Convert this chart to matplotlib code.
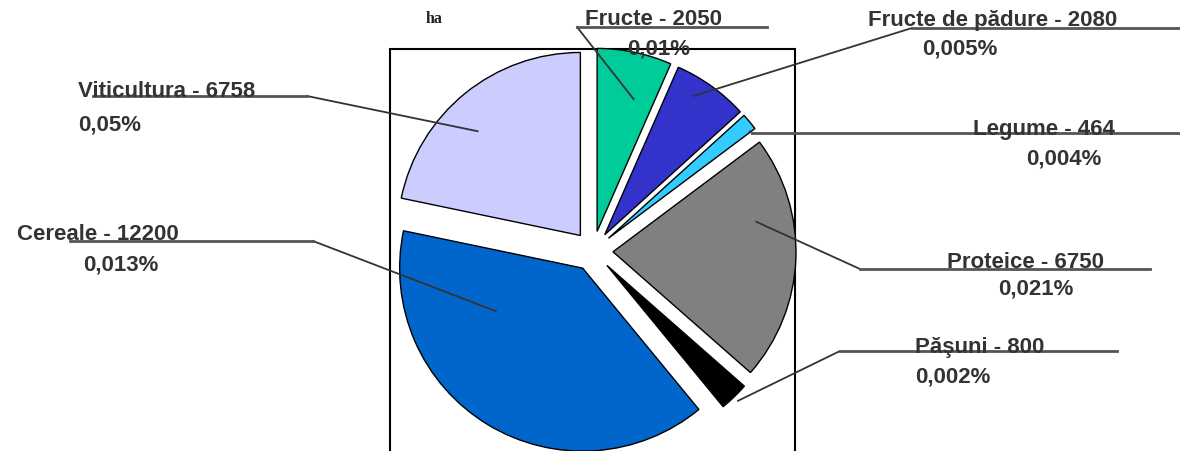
import numpy as np
import matplotlib
matplotlib.use("Agg")
import matplotlib.pyplot as plt

# data (ha)
labels = ['Fructe', 'Fructe de pădure', 'Legume', 'Proteice', 'Păşuni', 'Cereale', 'Viticultura']
ha_values = [2050, 2080, 464, 6750, 800, 12200, 6758]
pct_labels = ['0,01%', '0,005%', '0,004%', '0,021%', '0,002%', '0,013%', '0,05%']
colors = ['#00CC99', '#3333CC', '#33CCFF', '#808080', '#000000', '#0066CC', '#CCCCFF']

W, H = 1180, 452

def Y(y):
    # image rows (top-down) -> data y (bottom-up)
    return H - y

# layout of the callouts, in image pixels
# (t along wedge, radial fraction, elbow x, elbow y, line end x, text x, text base, pct x, pct base)
callouts = [
    (0.35, 0.75, 577, 28, 767, 585, 25, 627, 55),
    (0.63, 0.90, 912, 29, 1180, 868, 26, 922, 55),
    (0.05, 0.97, 752, 134, 1180, 973, 135, 1026, 165),
    (0.68, 0.80, 860, 270, 1150, 947, 268, 998, 295),
    (0.50, 1.03, 840, 352, 1117, 915, 353, 915, 383),
    (0.27, 0.53, 313, 242, 70, 17, 240, 83, 270),
    (0.57, 0.80, 307, 97, 93, 78, 97, 78, 130),
]

fig = plt.figure(figsize=(W / 100, H / 100), dpi=100)
ax = fig.add_axes([0, 0, 1, 1])

# explode is in data units here (pixels), since radius is in pixels
wedges, _ = ax.pie(ha_values, colors=colors, startangle=90, counterclock=False,
                   explode=[20] * len(ha_values), center=(593, Y(252)), radius=183,
                   wedgeprops=dict(edgecolor='black', linewidth=1.0))

# frame around the pie
ax.add_patch(plt.Rectangle((390, -10), 405, Y(50) + 10, fill=False,
                           edgecolor='black', linewidth=1.5, zorder=0))

txt = dict(family='Liberation Sans', fontweight='bold', fontsize=16, color='#333333')
for w, name, val, pct, c in zip(wedges, labels, ha_values, pct_labels, callouts):
    t, frac, ex, ey, endx, tx, ty, px, py = c
    a = np.radians(w.theta1 + t * (w.theta2 - w.theta1))
    cx, cy = w.center
    axx = cx + frac * w.r * np.cos(a)
    axy = cy + frac * w.r * np.sin(a)
    ax.plot([axx, ex], [axy, Y(ey)], color='#333333', linewidth=1.3, zorder=3)
    ax.plot([ex, endx], [Y(ey), Y(ey)], color='#555555', linewidth=2.0, zorder=3)
    ax.text(tx, Y(ty), name + ' - ' + str(val), ha='left', va='baseline', zorder=4, **txt)
    ax.text(px, Y(py), pct, ha='left', va='baseline', zorder=4, **txt)

ax.text(426, Y(23), 'ha', family='Liberation Serif', fontweight='bold', fontsize=11.5,
        color='#222222', ha='left', va='baseline')

ax.set_xlim(0, W)
ax.set_ylim(0, H)
ax.axis('off')

fig.savefig('out.png', dpi=100)
